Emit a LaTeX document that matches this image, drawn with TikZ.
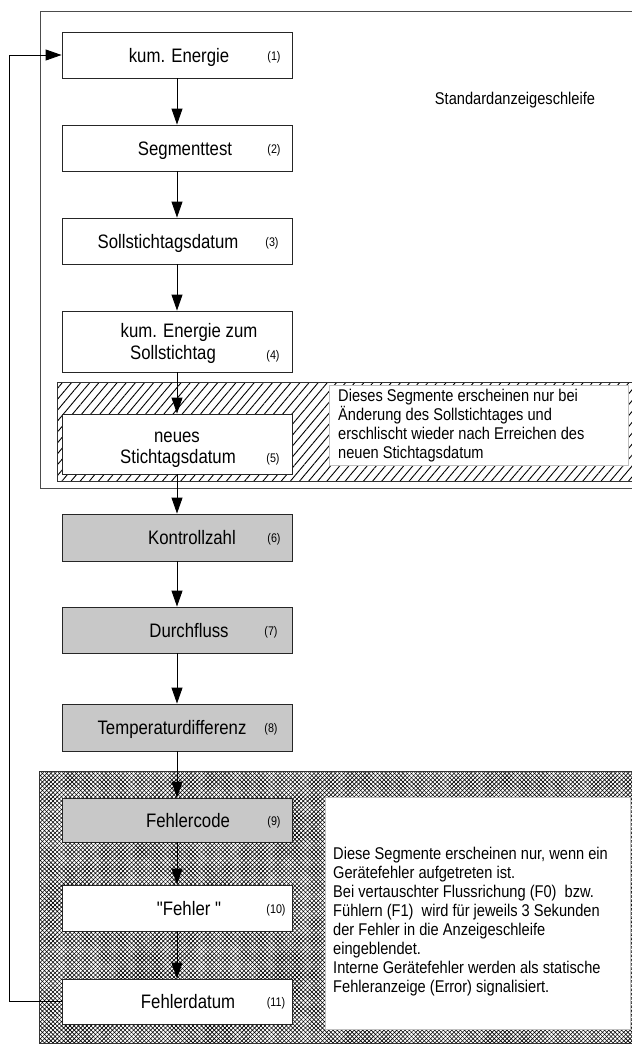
\documentclass[tikz,border=0pt]{standalone}
\usepackage{fontspec}
\setmainfont{Liberation Sans}[FakeStretch=0.86, Ligatures=TeXOff]
\usetikzlibrary{arrows.meta,patterns.meta}
\definecolor{boxgray}{RGB}{200,200,200}
\begin{document}
\begin{tikzpicture}[x=1pt,y=-1pt,
  box/.style={draw=black!85, line width=0.9pt, fill=white, minimum width=230pt, minimum height=46pt, inner sep=0pt},
  gbox/.style={box, fill=boxgray},
  lab/.style={font=\fontsize{19.5}{22}\selectfont, inner sep=0pt},
  num/.style={font=\fontsize{12.5}{14}\selectfont, inner sep=0pt},
  note/.style={font=\fontsize{17}{19}\selectfont, align=left, inner sep=0pt, anchor=north west},
  notebox/.style={draw=black!25, line width=0.6pt, fill=white, inner sep=0pt},
  arr/.style={-{Triangle[length=16pt,width=11pt]}, line width=0.9pt, black},
  region/.style={draw=black!80, line width=0.8pt}
]
\useasboundingbox (0,0) rectangle (632,1045);
\fill[white] (0,0) rectangle (632,1045);

% outer frame (Standardanzeigeschleife)
\draw[black!70, line width=0.9pt] (632,11) -- (40,11) -- (40,488) -- (632,488);
\node[font=\fontsize{17}{19}\selectfont, inner sep=0pt] (title) at (515,100) {Standardanzeigeschleife};

% hatched region
\fill[pattern={Lines[angle=50,distance=7pt,line width=0.9pt]}] (57,382) rectangle (632,481);
\draw[region] (632,382) -- (57,382) -- (57,481) -- (632,481);

% crosshatched region
\fill[pattern={Lines[angle=45,distance=3pt,line width=0.6pt]}] (39,771) rectangle (632,1043);
\fill[pattern={Lines[angle=-45,distance=3pt,line width=0.6pt]}] (39,771) rectangle (632,1043);
\draw[region] (632,771) -- (39,771) -- (39,1043) -- (632,1043);

% note boxes
\node[notebox, minimum width=299pt, minimum height=80pt] (note1) at (478.5,425) {};
\node[note] (note1t) at (338,389) {Dieses Segmente erscheinen nur bei\\
Änderung des Sollstichtages und\\
erschlischt wieder nach Erreichen des\\
neuen Stichtagsdatum};

\node[notebox, minimum width=305pt, minimum height=232pt] (note2) at (477.5,913) {};
\node[note] (note2t) at (333,847) {Diese Segmente erscheinen nur, wenn ein\\
Gerätefehler aufgetreten ist.\\
Bei vertauschter Flussrichung (F0)\ \ bzw.\\
Fühlern (F1)\ \ wird für jeweils 3 Sekunden\\
der Fehler in die Anzeigeschleife\\
eingeblendet.\\
Interne Gerätefehler werden als statische\\
Fehleranzeige (Error) signalisiert.};

% boxes
\node[box] (b1) at (177,55) {};
\node[box] (b2) at (177,148) {};
\node[box] (b3) at (177,241) {};
\node[box, minimum height=61pt] (b4) at (177,341.5) {};
\node[box, minimum height=60pt] (b5) at (177,444) {};
\node[gbox, minimum height=47pt] (b6) at (177,537.5) {};
\node[gbox] (b7) at (177,630) {};
\node[gbox, minimum height=47pt] (b8) at (177,727.5) {};
\node[gbox, minimum height=44pt] (b9) at (177,820) {};
\node[box] (b10) at (177,908) {};
\node[box, minimum height=45pt] (b11) at (177,1001.5) {};

% labels (anchor=base, baseline = line centre + 7)
\node[lab, anchor=base] (t1) at (179,62) {kum. Energie};
\node[num, anchor=base] (n1) at (274,60) {(1)};
\node[lab, anchor=base] (t2) at (185,155) {Segmenttest};
\node[num, anchor=base] (n2) at (274,153) {(2)};
\node[lab, anchor=base] (t3) at (168,248) {Sollstichtagsdatum};
\node[num, anchor=base] (n3) at (272,246) {(3)};
\node[lab, anchor=base] (t4a) at (189,337) {kum. Energie zum};
\node[lab, anchor=base] (t4b) at (173,359) {Sollstichtag};
\node[num, anchor=base] (n4) at (273,359) {(4)};
\node[lab, anchor=base] (t5a) at (177,442) {neues};
\node[lab, anchor=base] (t5b) at (178,463) {Stichtagsdatum};
\node[num, anchor=base] (n5) at (273,462) {(5)};
\node[lab, anchor=base] (t6) at (192,544) {Kontrollzahl};
\node[num, anchor=base] (n6) at (274,542) {(6)};
\node[lab, anchor=base] (t7) at (189,637) {Durchfluss};
\node[num, anchor=base] (n7) at (271,635) {(7)};
\node[lab, anchor=base] (t8) at (172,734) {Temperaturdifferenz};
\node[num, anchor=base] (n8) at (271,732) {(8)};
\node[lab, anchor=base] (t9) at (188,827) {Fehlercode};
\node[num, anchor=base] (n9) at (274,825) {(9)};
\node[lab, anchor=base] (t10) at (189,915) {"Fehler\ "};
\node[num, anchor=base] (n10) at (276,913) {(10)};
\node[lab, anchor=base] (t11) at (188,1008) {Fehlerdatum};
\node[num, anchor=base] (n11) at (276,1006) {(11)};

% connectors
\draw[arr] (b1.south) -- (b2.north);
\draw[arr] (b2.south) -- (b3.north);
\draw[arr] (b3.south) -- (b4.north);
\draw[arr] (b4.south) -- (b5.north);
\draw[arr] (b5.south) -- (b6.north);
\draw[arr] (b6.south) -- (b7.north);
\draw[arr] (b7.south) -- (b8.north);
\draw[arr] (b8.south) -- (b9.north);
\draw[arr] (b9.south) -- (b10.north);
\draw[arr] (b10.south) -- (b11.north);

\coordinate (lA) at (9,1001.5);
\coordinate (lB) at (9,55);
\draw[arr] (b11.west) -- (lA) -- (lB) -- (b1.west);
\end{tikzpicture}
\end{document}
